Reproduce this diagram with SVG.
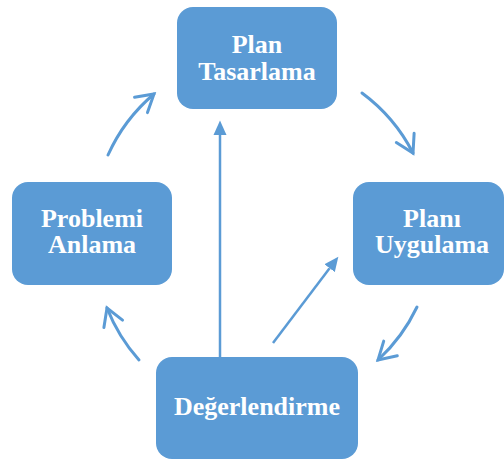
<svg xmlns="http://www.w3.org/2000/svg" width="504" height="462" viewBox="0 0 504 462">
<style>
.box{fill:#5B9BD5;}
.lbl{font-family:"Liberation Serif","Times New Roman",serif;font-weight:bold;font-size:26px;fill:#FFFFFF;text-anchor:middle;}
.arc{fill:none;stroke:#5B9BD5;stroke-width:3;stroke-linecap:round;marker-end:url(#chev);}
.str{fill:none;stroke:#5B9BD5;stroke-width:2.5;marker-end:url(#tri);}
</style>
<defs>
<marker id="chev" markerUnits="userSpaceOnUse" viewBox="-22 -14 26 28" markerWidth="26" markerHeight="28" refX="0" refY="0" orient="auto">
<path d="M-17,-10 L0,0 L-17,10" fill="none" stroke="#5B9BD5" stroke-width="3" stroke-linecap="round" stroke-linejoin="miter"/>
</marker>
<marker id="tri" markerUnits="userSpaceOnUse" viewBox="0 -7 15 14" markerWidth="15" markerHeight="14" refX="0" refY="0" orient="auto">
<path d="M0,-6.5 L14.5,0 L0,6.5 Z" fill="#5B9BD5"/>
</marker>
</defs>
<g id="connectors">
<path class="arc" d="M108,155 A173,173 0 0,1 154,94"/>
<path class="arc" d="M362,93 A173,173 0 0,1 413,153"/>
<path class="arc" d="M417,307 A173,173 0 0,1 378,360"/>
<path class="arc" d="M139,360 A173,173 0 0,1 107,308"/>
<path class="str" d="M220,357 L220,135"/>
<path class="str" d="M273,343 L329.6,268.2"/>
</g>
<g id="plan-tasarlama">
<rect class="box" x="177" y="7" width="160" height="102" rx="16"/>
<text class="lbl" x="257" y="53">Plan</text>
<text class="lbl" x="257" y="80">Tasarlama</text>
</g>
<g id="plani-uygulama">
<rect class="box" x="353" y="182" width="151" height="103" rx="16"/>
<text class="lbl" x="432" y="227">Planı</text>
<text class="lbl" x="432" y="253">Uygulama</text>
</g>
<g id="degerlendirme">
<rect class="box" x="156" y="357" width="202" height="102" rx="16"/>
<text class="lbl" x="257" y="415">Değerlendirme</text>
</g>
<g id="problemi-anlama">
<rect class="box" x="12" y="182" width="160" height="103" rx="16"/>
<text class="lbl" x="92" y="227">Problemi</text>
<text class="lbl" x="92" y="253">Anlama</text>
</g>
</svg>
